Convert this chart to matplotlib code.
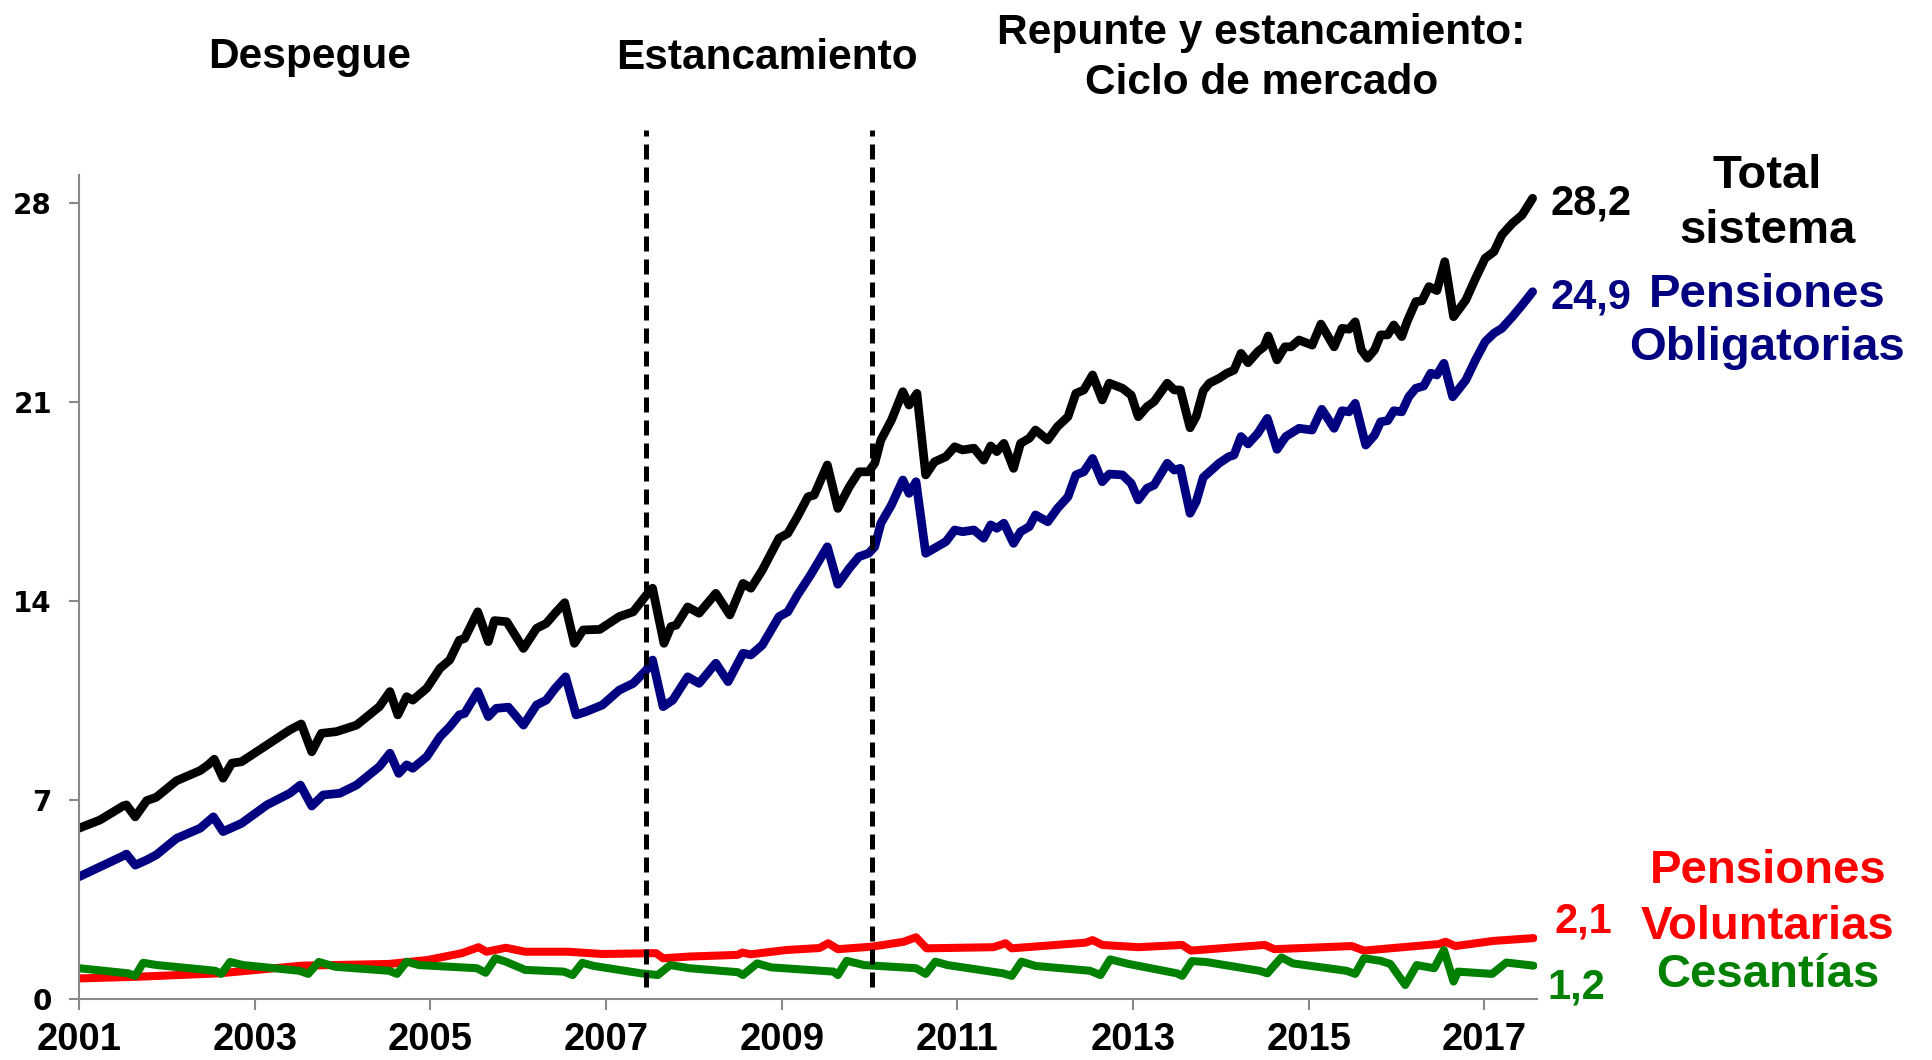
import matplotlib
matplotlib.use("Agg")
import matplotlib.pyplot as plt

plt.rcParams['font.family'] = ['Liberation Sans', 'DejaVu Sans']

# Total sistema (billones)
tot_x = [2001.00, 2001.24, 2001.50, 2001.54, 2001.64, 2001.77, 2001.88, 2002.11, 2002.38, 2002.47,
         2002.54, 2002.64, 2002.74, 2002.85, 2003.14, 2003.40, 2003.53, 2003.65, 2003.76, 2003.93,
         2004.16, 2004.42, 2004.54, 2004.63, 2004.73, 2004.80, 2004.96, 2005.11, 2005.22, 2005.33,
         2005.39, 2005.54, 2005.66, 2005.73, 2005.87, 2006.06, 2006.21, 2006.32, 2006.42, 2006.53,
         2006.64, 2006.74, 2006.93, 2007.15, 2007.31, 2007.46, 2007.53, 2007.66, 2007.74, 2007.80,
         2007.93, 2008.06, 2008.25, 2008.41, 2008.56, 2008.65, 2008.78, 2008.97, 2009.07, 2009.18,
         2009.30, 2009.37, 2009.52, 2009.64, 2009.77, 2009.88, 2009.99, 2010.06, 2010.13, 2010.25,
         2010.38, 2010.45, 2010.54, 2010.64, 2010.74, 2010.87, 2010.97, 2011.06, 2011.19, 2011.30,
         2011.38, 2011.45, 2011.53, 2011.64, 2011.72, 2011.82, 2011.89, 2012.03, 2012.14, 2012.26,
         2012.35, 2012.44, 2012.54, 2012.65, 2012.73, 2012.88, 2012.98, 2013.06, 2013.16, 2013.24,
         2013.39, 2013.47, 2013.54, 2013.65, 2013.72, 2013.80, 2013.87, 2013.98, 2014.07, 2014.15,
         2014.23, 2014.31, 2014.42, 2014.49, 2014.54, 2014.64, 2014.73, 2014.80, 2014.89, 2015.04,
         2015.14, 2015.29, 2015.38, 2015.46, 2015.53, 2015.60, 2015.67, 2015.75, 2015.82, 2015.90,
         2015.97, 2016.06, 2016.12, 2016.22, 2016.29, 2016.37, 2016.46, 2016.55, 2016.65, 2016.79,
         2016.90, 2017.01, 2017.11, 2017.20, 2017.32, 2017.43, 2017.55]
tot_y = [6.00, 6.29, 6.78, 6.82, 6.40, 6.97, 7.09, 7.67, 8.03, 8.23,
         8.43, 7.76, 8.29, 8.34, 8.93, 9.46, 9.67, 8.69, 9.34, 9.40,
         9.63, 10.28, 10.81, 9.99, 10.63, 10.51, 10.93, 11.63, 11.92, 12.62,
         12.68, 13.62, 12.57, 13.31, 13.27, 12.33, 13.04, 13.21, 13.57, 13.94,
         12.51, 12.98, 13.00, 13.45, 13.62, 14.21, 14.45, 12.51, 13.10, 13.15,
         13.79, 13.57, 14.27, 13.51, 14.62, 14.45, 15.09, 16.21, 16.38, 16.97,
         17.67, 17.73, 18.79, 17.26, 18.02, 18.55, 18.55, 18.85, 19.67, 20.37,
         21.37, 20.90, 21.31, 18.44, 18.90, 19.08, 19.43, 19.32, 19.38, 18.96,
         19.46, 19.26, 19.55, 18.67, 19.55, 19.73, 20.02, 19.67, 20.14, 20.49,
         21.31, 21.43, 21.96, 21.08, 21.67, 21.49, 21.25, 20.49, 20.84, 21.02,
         21.67, 21.43, 21.43, 20.10, 20.50, 21.40, 21.67, 21.84, 22.02, 22.13,
         22.72, 22.39, 22.78, 22.95, 23.33, 22.49, 22.95, 22.95, 23.19, 23.01,
         23.75, 22.95, 23.60, 23.57, 23.83, 22.84, 22.55, 22.84, 23.37, 23.37,
         23.72, 23.31, 23.83, 24.54, 24.57, 25.07, 24.93, 25.95, 24.01, 24.60,
         25.36, 26.07, 26.30, 26.89, 27.30, 27.59, 28.18]

# Pensiones obligatorias
obl_x = [2001.00, 2001.24, 2001.50, 2001.54, 2001.64, 2001.77, 2001.88, 2002.11, 2002.38, 2002.53,
         2002.64, 2002.85, 2003.14, 2003.40, 2003.52, 2003.65, 2003.78, 2003.97, 2004.16, 2004.42,
         2004.54, 2004.64, 2004.73, 2004.80, 2004.96, 2005.11, 2005.22, 2005.33, 2005.39, 2005.54,
         2005.66, 2005.75, 2005.89, 2006.06, 2006.21, 2006.32, 2006.42, 2006.54, 2006.66, 2006.77,
         2006.96, 2007.15, 2007.31, 2007.46, 2007.53, 2007.65, 2007.76, 2007.93, 2008.06, 2008.25,
         2008.39, 2008.56, 2008.65, 2008.78, 2008.97, 2009.07, 2009.18, 2009.33, 2009.52, 2009.64,
         2009.77, 2009.88, 2009.99, 2010.06, 2010.13, 2010.25, 2010.38, 2010.45, 2010.53, 2010.64,
         2010.74, 2010.87, 2010.97, 2011.06, 2011.19, 2011.30, 2011.38, 2011.45, 2011.53, 2011.64,
         2011.72, 2011.82, 2011.89, 2012.03, 2012.14, 2012.26, 2012.35, 2012.44, 2012.54, 2012.65,
         2012.73, 2012.88, 2012.98, 2013.06, 2013.16, 2013.24, 2013.39, 2013.47, 2013.54, 2013.65,
         2013.72, 2013.80, 2013.98, 2014.09, 2014.15, 2014.23, 2014.31, 2014.42, 2014.53, 2014.64,
         2014.74, 2014.89, 2015.04, 2015.15, 2015.29, 2015.38, 2015.46, 2015.53, 2015.65, 2015.75,
         2015.82, 2015.90, 2015.97, 2016.06, 2016.14, 2016.22, 2016.31, 2016.39, 2016.46, 2016.54,
         2016.64, 2016.79, 2016.90, 2017.01, 2017.11, 2017.20, 2017.32, 2017.43, 2017.55]
obl_y = [4.29, 4.64, 5.02, 5.09, 4.70, 4.88, 5.06, 5.64, 6.00, 6.40,
         5.88, 6.17, 6.82, 7.23, 7.52, 6.78, 7.17, 7.23, 7.52, 8.17,
         8.64, 7.93, 8.23, 8.11, 8.52, 9.22, 9.57, 9.99, 10.04, 10.81,
         9.93, 10.22, 10.26, 9.63, 10.34, 10.51, 10.92, 11.33, 9.99, 10.10,
         10.34, 10.86, 11.10, 11.57, 11.92, 10.28, 10.51, 11.33, 11.10, 11.81,
         11.16, 12.16, 12.10, 12.45, 13.45, 13.62, 14.21, 14.92, 15.91, 14.59,
         15.15, 15.56, 15.68, 15.91, 16.74, 17.38, 18.26, 17.79, 18.20, 15.68,
         15.86, 16.09, 16.50, 16.44, 16.50, 16.21, 16.68, 16.56, 16.74, 16.03,
         16.44, 16.62, 17.03, 16.79, 17.26, 17.67, 18.44, 18.55, 19.02, 18.20,
         18.47, 18.44, 18.14, 17.56, 17.97, 18.08, 18.85, 18.61, 18.67, 17.09,
         17.50, 18.35, 18.85, 19.08, 19.14, 19.79, 19.53, 19.90, 20.43, 19.34,
         19.79, 20.08, 20.02, 20.75, 20.08, 20.70, 20.66, 20.96, 19.49, 19.84,
         20.31, 20.35, 20.70, 20.66, 21.19, 21.49, 21.57, 22.02, 21.96, 22.37,
         21.19, 21.78, 22.49, 23.13, 23.43, 23.60, 24.01, 24.42, 24.89]

# Pensiones voluntarias
vol_x = [2001.00, 2001.67, 2002.60, 2003.54, 2004.53, 2004.97, 2005.36, 2005.55, 2005.64, 2005.86,
         2006.08, 2006.57, 2006.96, 2007.57, 2007.65, 2007.95, 2008.50, 2008.55, 2008.65, 2009.05,
         2009.43, 2009.53, 2009.64, 2010.03, 2010.39, 2010.53, 2010.65, 2011.41, 2011.55, 2011.62,
         2012.46, 2012.54, 2012.65, 2013.06, 2013.56, 2013.66, 2014.50, 2014.61, 2015.49, 2015.63,
         2016.48, 2016.56, 2016.67, 2017.10, 2017.56]
vol_y = [0.71, 0.77, 0.89, 1.16, 1.22, 1.36, 1.60, 1.81, 1.65, 1.79,
         1.65, 1.65, 1.57, 1.60, 1.42, 1.48, 1.54, 1.62, 1.56, 1.71,
         1.78, 1.95, 1.74, 1.83, 2.00, 2.16, 1.77, 1.81, 1.95, 1.77,
         1.97, 2.06, 1.89, 1.81, 1.89, 1.69, 1.89, 1.74, 1.85, 1.69,
         1.92, 2.00, 1.85, 2.03, 2.13]

# Cesantias
ces_x = [2001.00, 2001.56, 2001.64, 2001.73, 2001.89, 2002.55, 2002.62, 2002.72, 2002.87, 2003.51,
         2003.61, 2003.73, 2003.92, 2004.53, 2004.62, 2004.73, 2004.87, 2005.53, 2005.63, 2005.74,
         2005.86, 2006.08, 2006.52, 2006.62, 2006.73, 2006.86, 2007.40, 2007.59, 2007.73, 2007.95,
         2008.50, 2008.56, 2008.72, 2008.88, 2009.59, 2009.64, 2009.74, 2009.94, 2010.53, 2010.64,
         2010.75, 2010.89, 2011.52, 2011.62, 2011.73, 2011.89, 2012.51, 2012.63, 2012.74, 2012.95,
         2013.50, 2013.56, 2013.67, 2013.83, 2014.44, 2014.53, 2014.69, 2014.82, 2015.43, 2015.53,
         2015.63, 2015.82, 2015.93, 2016.10, 2016.23, 2016.43, 2016.54, 2016.65, 2016.70, 2017.09,
         2017.25, 2017.56]
ces_y = [1.07, 0.89, 0.80, 1.26, 1.18, 0.98, 0.87, 1.29, 1.18, 0.98,
         0.87, 1.29, 1.12, 0.98, 0.87, 1.30, 1.18, 1.07, 0.91, 1.42,
         1.30, 1.01, 0.95, 0.83, 1.26, 1.15, 0.89, 0.83, 1.18, 1.07,
         0.93, 0.83, 1.24, 1.10, 0.95, 0.83, 1.33, 1.18, 1.07, 0.87,
         1.30, 1.18, 0.89, 0.80, 1.30, 1.15, 0.98, 0.83, 1.38, 1.22,
         0.89, 0.80, 1.32, 1.29, 0.98, 0.89, 1.45, 1.24, 0.98, 0.87,
         1.42, 1.33, 1.22, 0.48, 1.18, 1.07, 1.71, 0.60, 0.95, 0.87,
         1.27, 1.16]

# period separators
cortes = [2007.46, 2010.03]
year_ticks = [2001, 2003, 2005, 2007, 2009, 2011, 2013, 2015, 2017]
val_ticks = [0, 7, 14, 21, 28]

W, H = 1933, 1060
fig = plt.figure(figsize=(W / 100, H / 100), dpi=100)
ax = fig.add_axes([79 / W, 1 - 998.6 / H, 1458 / W, (998.6 - 175) / H])

kw = dict(solid_capstyle='round', solid_joinstyle='round')
ax.plot(vol_x, vol_y, color='#ff0000', lw=5.8, **kw)
ax.plot(ces_x, ces_y, color='#008000', lw=5.8, **kw)
ax.plot(obl_x, obl_y, color='#000080', lw=6.3, **kw)
ax.plot(tot_x, tot_y, color='black', lw=6.3, **kw)

for c in cortes:
    ax.plot([c, c], [0.4, 30.6], color='black', lw=3.6, linestyle=(0, (3, 1.6)),
            clip_on=False, dash_capstyle='butt')

ax.set_xlim(2001, 2017.6)
ax.set_ylim(0, 29)
ax.set_xticks(year_ticks)
ax.set_yticks(val_ticks)
ax.set_xticklabels([str(y) for y in year_ticks], fontsize=27.5, fontweight='bold')
ax.set_yticklabels([str(v) for v in val_ticks], fontsize=20, fontweight='bold',
                   family=['DejaVu Sans'])
for s in ['top', 'right']:
    ax.spines[s].set_visible(False)
for s in ['left', 'bottom']:
    ax.spines[s].set_color('#898989')
    ax.spines[s].set_linewidth(1.5)
ax.tick_params(axis='x', direction='out', length=8, width=1.5, color='#898989', pad=9)
ax.tick_params(axis='y', direction='out', length=7.5, width=1.5, color='#898989', pad=12)


def fmt(v):
    return f"{v:.1f}".replace('.', ',')


# end values
ends = [(tot_x, tot_y, 'black', 18, -16.4),
        (obl_x, obl_y, '#000080', 18, -16.3),
        (vol_x, vol_y, '#ff0000', 21, 5.3),
        (ces_x, ces_y, '#008000', 14, -33.3)]
for xs, ys, col, dx, dy in ends:
    ax.annotate(fmt(ys[-1]), xy=(xs[-1], ys[-1]), xytext=(dx, dy), textcoords='offset pixels',
                ha='left', va='baseline', fontsize=30, fontweight='bold', color=col,
                annotation_clip=False)


def ftext(x, y, s, **k):
    fig.text(x / W, 1 - y / H, s, ha='center', va='baseline', fontweight='bold', **k)


# series names
ftext(1767, 188, 'Total', fontsize=34, color='black')
ftext(1767, 243, 'sistema', fontsize=34, color='black')
ftext(1767, 307, 'Pensiones', fontsize=34, color='#000080')
ftext(1767, 360, 'Obligatorias', fontsize=34, color='#000080')
ftext(1768, 883, 'Pensiones', fontsize=34, color='#ff0000')
ftext(1768, 939, 'Voluntarias', fontsize=34, color='#ff0000')
ftext(1768, 987, 'Cesantías', fontsize=34, color='#008000')

# periods
ftext(310, 68, 'Despegue', fontsize=30.5, color='black')
ftext(767, 69, 'Estancamiento', fontsize=30.5, color='black')
ftext(1261, 44, 'Repunte y estancamiento:', fontsize=30.5, color='black')
ftext(1262, 94, 'Ciclo de mercado', fontsize=30.5, color='black')

fig.savefig('out.png', dpi=100)
